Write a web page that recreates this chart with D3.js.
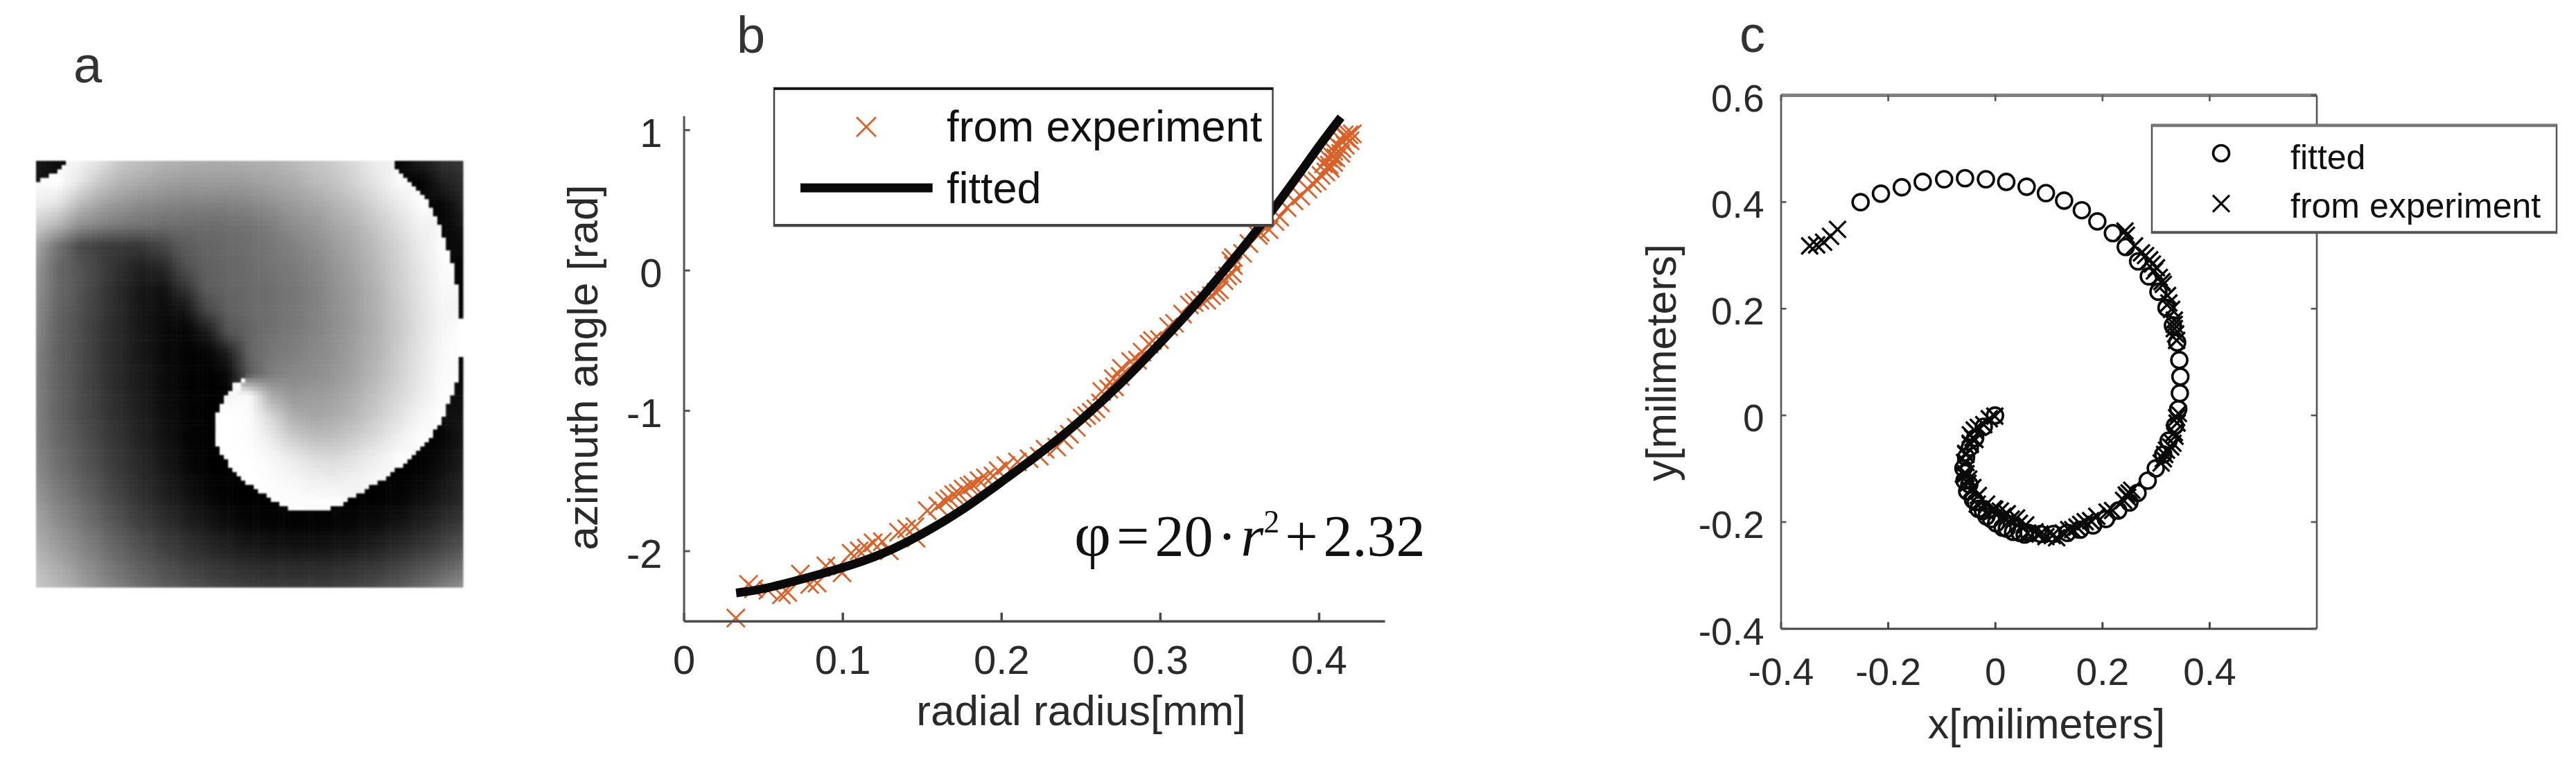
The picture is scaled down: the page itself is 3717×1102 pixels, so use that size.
<!DOCTYPE html>
<html>
<head>
<meta charset="utf-8">
<script src="https://cdnjs.cloudflare.com/ajax/libs/d3/7.8.5/d3.min.js"></script>
<style>
  html, body { margin: 0; background: #fff; }
  text { font-family: "Liberation Sans", Arial, sans-serif; fill: #2a2a2a; }
  .eq text, text.eq { font-family: "Liberation Serif", "Times New Roman", serif; fill: #111; }
</style>
</head>
<body>
<div class="canvas"></div>
<script>
// panel a: grey levels on a 21x21 grid (every 5 image cells)
const phaseGrid = [
  [20,10,245,225,200,190,180,175,172,172,175,178,185,195,205,220,240,5,25,45,55],
  [250,255,230,200,180,170,160,155,155,155,158,165,172,185,195,212,230,250,2,30,45],
  [238,228,190,165,150,140,135,130,130,130,135,145,155,165,180,195,215,235,252,5,35],
  [205,182,145,130,120,115,110,108,108,110,115,125,140,150,165,180,200,222,242,3,20],
  [165,115,75,60,55,55,70,92,100,105,110,118,128,140,155,170,190,212,235,252,10],
  [150,105,85,65,45,32,40,80,96,102,108,115,122,132,148,165,185,208,230,250,5],
  [145,105,85,60,38,22,18,50,92,100,105,110,118,128,145,160,180,205,228,248,2],
  [140,100,80,58,38,20,12,20,70,95,105,110,118,128,142,158,178,202,225,245,3],
  [135,98,78,55,38,22,10,5,25,85,100,112,120,130,143,158,178,200,225,245,255],
  [130,98,78,55,38,22,10,3,3,30,100,118,125,135,145,162,180,205,228,248,255],
  [128,98,78,55,38,25,12,3,0,8,90,125,135,140,150,165,185,208,230,250,5],
  [128,100,78,58,40,25,12,3,0,245,250,170,150,155,160,175,195,215,235,252,12],
  [128,100,78,60,42,30,15,5,0,255,252,215,175,165,172,185,205,225,245,255,18],
  [130,105,85,65,48,32,18,5,0,255,252,235,205,190,192,205,220,240,252,3,22],
  [135,110,90,70,52,38,22,8,0,255,255,248,235,222,218,228,240,252,1,10,28],
  [142,118,98,78,58,42,28,14,3,0,255,252,248,240,238,242,248,0,5,18,35],
  [155,130,110,88,68,50,35,22,10,2,0,0,253,252,252,0,2,6,15,28,42],
  [165,142,122,100,80,62,48,34,22,12,6,3,2,2,4,8,12,20,30,45,60],
  [175,155,135,115,95,78,62,50,38,30,22,18,16,16,18,22,30,40,50,65,82],
  [190,170,150,128,108,92,78,65,55,48,42,40,40,40,42,48,55,65,78,92,110],
  [200,185,165,142,125,108,95,85,75,68,62,60,60,60,62,68,78,90,105,125,145]
];
// sharp white/black edges of panel a, in image cells (0-100)
const wrapUpperRight = [[82.5,-1],[83.2,0],[85.5,2.9],[89.3,6.4],[92.5,10.8],[95,16.6],[97.3,23.6],[99.2,31.9],[99.5,36.7],[101,36.7]];
const wrapSpiral = [[101,45.6],[99.2,45.6],[98.9,51],[96.9,56.1],[94.4,62.2],[90.6,67],[86.1,71.4],[81,74.9],[75.3,78.4],[70.8,81],[67,82.3],[60,82.3],[55.5,79.7],[51,76.9],[46.6,73.3],[44,69.5],[42.2,66.3],[41.6,62.5],[42.4,59],[44,56.1],[46.6,52.3],[49.4,51]];
const wrapCorner = [[8.3,-1],[7.7,0],[5.4,2.2],[2.9,3.8],[0,4.9],[-1,4.9]];

// panel b
const bXTicks = [0, 0.1, 0.2, 0.3, 0.4];
const bYTicks = [1, 0, -1, -2];
const fittedR = [0.033,0.05,0.075,0.1,0.125,0.15,0.175,0.2,0.225,0.25,0.275,0.3,0.325,0.35,0.375,0.4,0.414];
const fittedPhi = [-2.3,-2.27,-2.2,-2.12,-2.02,-1.88,-1.71,-1.51,-1.3,-1.07,-0.81,-0.52,-0.21,0.13,0.49,0.88,1.09];
const expR = [0.0328,0.0408,0.044,0.053,0.0615,0.0655,0.0735,0.0793,0.084,0.0895,0.0967,0.0997,0.1054,0.1105,0.115,0.1193,0.1251,0.1295,0.1353,0.1404,0.1456,0.1463,0.1534,0.16,0.1643,0.1672,0.17,0.173,0.176,0.1797,0.182,0.186,0.19,0.1949,0.198,0.2029,0.2102,0.2175,0.224,0.2276,0.2349,0.2393,0.2429,0.2473,0.2509,0.2538,0.2567,0.2596,0.2625,0.2633,0.2677,0.2713,0.2706,0.2749,0.2757,0.2815,0.2858,0.2887,0.2931,0.2953,0.2996,0.3054,0.3091,0.3142,0.3185,0.3215,0.3251,0.3294,0.3324,0.3352,0.3374,0.3403,0.3426,0.3455,0.3462,0.3447,0.3462,0.352,0.356,0.362,0.3631,0.3687,0.3724,0.3754,0.38,0.3844,0.3887,0.3931,0.396,0.399,0.4014,0.4044,0.4066,0.4094,0.4108,0.4138,0.4145,0.4167,0.4174,0.4197,0.4211,0.419,0.416,0.4145,0.4094,0.411,0.4058,0.403,0.4087,0.4072];
const expPhi = [-2.479,-2.239,-2.27,-2.281,-2.314,-2.297,-2.165,-2.24,-2.23,-2.108,-2.12,-2.157,-2.017,-2.0,-1.98,-1.943,-1.935,-2.0,-1.868,-1.843,-1.828,-1.91,-1.714,-1.68,-1.645,-1.63,-1.6,-1.59,-1.56,-1.54,-1.53,-1.5,-1.48,-1.466,-1.43,-1.392,-1.367,-1.343,-1.326,-1.276,-1.26,-1.21,-1.169,-1.12,-1.054,-1.037,-1.013,-0.988,-0.947,-0.865,-0.848,-0.832,-0.774,-0.758,-0.7,-0.651,-0.642,-0.584,-0.527,-0.502,-0.494,-0.403,-0.379,-0.313,-0.247,-0.23,-0.214,-0.214,-0.182,-0.157,-0.14,-0.074,-0.041,-0.025,0.033,0.066,0.09,0.12,0.19,0.247,0.27,0.288,0.346,0.379,0.445,0.494,0.527,0.577,0.618,0.635,0.675,0.7,0.749,0.766,0.8,0.832,0.865,0.89,0.939,0.922,0.972,0.964,0.964,0.922,0.848,0.897,0.8,0.758,0.807,0.725];

// panel c
const cXTicks = [-0.4, -0.2, 0, 0.2, 0.4];
const cYTicks = [0.6, 0.4, 0.2, 0, -0.2, -0.4];
const circleX = [-0.251,-0.213,-0.174,-0.135,-0.095,-0.056,-0.017,0.021,0.059,0.095,0.129,0.162,0.191,0.22,0.244,0.267,0.287,0.305,0.32,0.332,0.34,0.344,0.346,0.345,0.342,0.336,0.324,0.314,0.3,0.285,0.266,0.251,0.23,0.207,0.183,0.159,0.135,0.109,0.085,0.063,0.046,0.022,0.002,-0.016,-0.031,-0.041,-0.052,-0.057,-0.059,-0.054,-0.047,-0.037,-0.021,0,-0.048,-0.036,-0.0225,-0.0073,0.0142,0.0336,0.0552];
const circleY = [0.399,0.415,0.427,0.437,0.442,0.444,0.442,0.437,0.428,0.416,0.402,0.384,0.363,0.341,0.315,0.288,0.26,0.231,0.201,0.168,0.136,0.103,0.072,0.041,0.011,-0.02,-0.048,-0.074,-0.1,-0.123,-0.146,-0.164,-0.179,-0.195,-0.207,-0.215,-0.221,-0.223,-0.223,-0.221,-0.221,-0.213,-0.203,-0.19,-0.176,-0.159,-0.143,-0.123,-0.1,-0.079,-0.061,-0.043,-0.022,-0.001,-0.13,-0.163,-0.18,-0.195,-0.211,-0.219,-0.224];
const crossX = [-0.346,-0.333,-0.32,-0.307,-0.294,0.2426,0.2451,0.2604,0.2733,0.281,0.2886,0.2937,0.3014,0.3065,0.3141,0.3219,0.3295,0.3347,0.3347,0.3372,0.3423,0.3398,0.3347,0.3321,0.3167,0.3141,0.2502,0.2553,0.2476,0.2195,0.2093,0.1785,0.1684,0.153,0.1376,0.1274,0.1069,0.084,0.0609,0.0455,0.0303,0.0149,-0.0004,-0.0158,-0.0312,-0.0414,-0.0491,-0.0542,-0.0542,-0.0542,-0.0465,-0.0414,-0.0388,-0.0312,-0.021,-0.0107,-0.0004,-0.003,0.0099,0.0228,0.0401,0.0574,0.0746,-0.0461,-0.0375,-0.0461,-0.0547,-0.0569,-0.059,-0.0505,-0.0461,-0.0332,0.3245,0.3115,0.2975,0.3345,0.339,0.339,0.336,0.328,0.32,0.31,0.245,0.24,0.19,0.16,0.145,0.115,0.095];
const crossY = [0.317,0.319,0.324,0.335,0.348,0.345,0.337,0.317,0.304,0.299,0.291,0.283,0.276,0.258,0.245,0.224,0.198,0.178,0.162,0.152,0.003,-0.015,-0.033,-0.053,-0.074,-0.082,-0.146,-0.141,-0.154,-0.179,-0.182,-0.198,-0.2,-0.21,-0.215,-0.221,-0.226,-0.223,-0.221,-0.203,-0.195,-0.19,-0.177,-0.167,-0.151,-0.136,-0.12,-0.11,-0.089,-0.074,-0.053,-0.043,-0.028,-0.023,-0.018,-0.007,-0.002,-0.176,-0.18,-0.185,-0.193,-0.206,-0.219,-0.037,-0.046,-0.055,-0.072,-0.089,-0.111,-0.128,-0.141,-0.167,0.21,0.25,0.27,0.17,0.14,-0.005,-0.04,-0.06,-0.066,-0.09,-0.15,-0.16,-0.19,-0.205,-0.215,-0.23,-0.228];

const svg = d3
  .select(".canvas")
  .append("svg")
  .attr("width", 3717)
  .attr("height", 1102)
  .style("display", "block")
  .style("filter", "blur(0.7px)");

const crossPath = (s) => `M${-s},${-s}L${s},${s}M${-s},${s}L${s},${-s}`;

// panel labels
[["a", 106, 119], ["b", 1063, 76], ["c", 2510, 75]].forEach(([t, px, py]) => {
  svg.append("text").attr("x", px).attr("y", py).attr("font-size", 74).style("fill", "#333").text(t);
});

// ---- panel a
const cells = d3.range(100);
const cellX = d3.scaleBand().domain(cells).range([52, 668]);
const cellY = d3.scaleBand().domain(cells).range([232, 847]);
const grey = d3.scaleLinear().domain([0, 255]).range(["#000", "#fff"]);
const wrapEdges = [wrapUpperRight, wrapSpiral, wrapCorner];

const crosses = (a, b, c, d) => {
  const s = (p, q, r) => (q[0] - p[0]) * (r[1] - p[1]) - (q[1] - p[1]) * (r[0] - p[0]);
  return s(a, b, c) * s(a, b, d) < 0 && s(c, d, a) * s(c, d, b) < 0;
};
const blocked = (p, q) =>
  wrapEdges.some((line) => d3.pairs(line).some(([c, d]) => crosses(p, q, c, d)));

// bilinear read of the grid, ignoring grid nodes on the far side of a sharp edge
const readCell = (i, j) => {
  const p = [i + 0.5, j + 0.5];
  const gx = Math.min(Math.floor(p[0] / 5), 19);
  const gy = Math.min(Math.floor(p[1] / 5), 19);
  const fx = p[0] / 5 - gx;
  const fy = p[1] / 5 - gy;
  let sum = 0;
  let weight = 0;
  let plain = 0;
  [[0, 0], [1, 0], [0, 1], [1, 1]].forEach(([a, b]) => {
    const w = (a ? fx : 1 - fx) * (b ? fy : 1 - fy);
    const v = phaseGrid[gy + b][gx + a];
    plain += w * v;
    if (!blocked(p, [(gx + a) * 5, (gy + b) * 5])) {
      sum += w * v;
      weight += w;
    }
  });
  return weight > 0 ? sum / weight : plain;
};

const cellData = cells.flatMap((j) => cells.map((i) => ({ i, j, v: readCell(i, j) })));

svg
  .append("g")
  .style("filter", "blur(1.2px)")
  .selectAll("rect")
  .data(cellData)
  .enter()
  .append("rect")
  .attr("x", (d) => cellX(d.i))
  .attr("y", (d) => cellY(d.j))
  .attr("width", cellX.bandwidth() + 0.5)
  .attr("height", cellY.bandwidth() + 0.5)
  .attr("fill", (d) => grey(d.v));

// ---- panel b
const bx = d3.scaleLinear().domain([0, 0.4415]).range([986.6, 1998]);
const by = d3.scaleLinear().domain([-2.5, 1.1]).range([895.7, 167]);
const graphB = svg.append("g");

graphB
  .append("g")
  .attr("class", "exp")
  .selectAll("path")
  .data(expR)
  .enter()
  .append("path")
  .attr("d", crossPath(13))
  .attr("transform", (d, i) => `translate(${bx(d)},${by(expPhi[i])})`)
  .attr("fill", "none")
  .attr("stroke", "#d9622b")
  .attr("stroke-width", 2.8);

const fitLine = d3
  .line()
  .x((d) => bx(d))
  .y((d, i) => by(fittedPhi[i]))
  .curve(d3.curveNatural);

graphB
  .append("path")
  .datum(fittedR)
  .attr("d", fitLine)
  .attr("fill", "none")
  .attr("stroke", "#0a0a0a")
  .attr("stroke-width", 12.5);

const styleAxis = (g, size, color, width) => {
  g.selectAll("text").attr("font-size", size).style("font-family", "Liberation Sans").style("fill", "#2a2a2a");
  g.selectAll("path,line").attr("stroke", color).attr("stroke-width", width);
};

const bXAxis = graphB
  .append("g")
  .attr("transform", "translate(0,895.7)")
  .call(d3.axisBottom(bx).tickValues(bXTicks).tickFormat(String).tickSizeInner(-12).tickSizeOuter(0).tickPadding(35));
styleAxis(bXAxis, 58, "#4a4a4a", 3.5);

const bYAxis = graphB
  .append("g")
  .attr("transform", "translate(986.6,0)")
  .call(d3.axisLeft(by).tickValues(bYTicks).tickFormat(String).tickSizeInner(-9).tickSizeOuter(0).tickPadding(31));
styleAxis(bYAxis, 58, "#555", 3);
bYAxis.selectAll("text").attr("dy", "0.41em");

graphB.append("text").attr("x", 1560).attr("y", 1046).attr("text-anchor", "middle").attr("font-size", 62).text("radial radius[mm]");
graphB
  .append("text")
  .attr("transform", "translate(862,530) rotate(-90)")
  .attr("text-anchor", "middle")
  .attr("font-size", 62)
  .text("azimuth angle [rad]");

// equation
const eq = graphB.append("text").attr("class", "eq").attr("x", 1550).attr("y", 802).attr("font-size", 84);
eq.append("tspan").attr("font-size", 92).text("φ");
eq.append("tspan").attr("dx", 8).text("=");
eq.append("tspan").attr("dx", 8).text("20");
eq.append("tspan").attr("dx", 6).text("·");
eq.append("tspan").attr("dx", 6).attr("font-style", "italic").text("r");
eq.append("tspan").attr("font-size", 46).attr("dy", -34).text("2");
eq.append("tspan").attr("dy", 34).attr("dx", 8).text("+");
eq.append("tspan").attr("dx", 8).text("2.32");

// legend b
const legB = graphB.append("g");
legB.append("rect").attr("x", 1117).attr("y", 127).attr("width", 719.5).attr("height", 199).attr("fill", "#fff").attr("stroke", "#444").attr("stroke-width", 2.5);
legB.append("line").attr("x1", 1117).attr("x2", 1836.5).attr("y1", 128).attr("y2", 128).attr("stroke", "#111").attr("stroke-width", 3.5);
legB.append("line").attr("x1", 1117).attr("x2", 1836.5).attr("y1", 325).attr("y2", 325).attr("stroke", "#444").attr("stroke-width", 4);
legB.append("path").attr("d", crossPath(14)).attr("transform", "translate(1250,183)").attr("fill", "none").attr("stroke", "#d9622b").attr("stroke-width", 2.8);
legB.append("line").attr("x1", 1155).attr("x2", 1345.6).attr("y1", 271).attr("y2", 271).attr("stroke", "#0a0a0a").attr("stroke-width", 13);
legB.append("text").attr("x", 1366).attr("y", 204).attr("font-size", 63).style("fill", "#111").text("from experiment");
legB.append("text").attr("x", 1366).attr("y", 293).attr("font-size", 63).style("fill", "#111").text("fitted");

// ---- panel c
const cx = d3.scaleLinear().domain([-0.4, 0.6]).range([2569.5, 3342.5]);
const cy = d3.scaleLinear().domain([-0.4, 0.6]).range([906.4, 137]);
const graphC = svg.append("g");

const cBottom = graphC
  .append("g")
  .attr("transform", "translate(0,906.4)")
  .call(d3.axisBottom(cx).tickValues(cXTicks).tickFormat(String).tickSizeInner(-9).tickSizeOuter(0).tickPadding(43));
styleAxis(cBottom, 55, "#444", 3);

const cLeft = graphC
  .append("g")
  .attr("transform", "translate(2569.5,0)")
  .call(d3.axisLeft(cy).tickValues(cYTicks).tickFormat(String).tickSizeInner(-8).tickSizeOuter(0).tickPadding(24));
styleAxis(cLeft, 55, "#555", 2.6);
cLeft.selectAll("text").attr("dy", "0.42em");

const cTop = graphC
  .append("g")
  .attr("transform", "translate(0,137)")
  .call(d3.axisTop(cx).tickValues(cXTicks).tickFormat("").tickSizeInner(-9).tickSizeOuter(0));
styleAxis(cTop, 55, "#555", 2.6);
cTop.select("path").attr("stroke", "#808080").attr("stroke-width", 5);

const cRight = graphC
  .append("g")
  .attr("transform", "translate(3342.5,0)")
  .call(d3.axisRight(cy).tickValues(cYTicks).tickFormat("").tickSizeInner(-8).tickSizeOuter(0));
styleAxis(cRight, 55, "#555", 2.6);

graphC
  .append("g")
  .selectAll("circle")
  .data(circleX)
  .enter()
  .append("circle")
  .attr("cx", (d) => cx(d))
  .attr("cy", (d, i) => cy(circleY[i]))
  .attr("r", 11.5)
  .attr("fill", "none")
  .attr("stroke", "#0a0a0a")
  .attr("stroke-width", 3.6);

graphC
  .append("g")
  .selectAll("path")
  .data(crossX)
  .enter()
  .append("path")
  .attr("d", crossPath(12))
  .attr("transform", (d, i) => `translate(${cx(d)},${cy(crossY[i])})`)
  .attr("fill", "none")
  .attr("stroke", "#0a0a0a")
  .attr("stroke-width", 3.4);

graphC.append("text").attr("x", 2953).attr("y", 1065).attr("text-anchor", "middle").attr("font-size", 61).text("x[milimeters]");
graphC
  .append("text")
  .attr("transform", "translate(2418,523) rotate(-90)")
  .attr("text-anchor", "middle")
  .attr("font-size", 61)
  .text("y[milimeters]");

// legend c
const legC = graphC.append("g");
legC.append("rect").attr("x", 3105).attr("y", 180).attr("width", 584).attr("height", 156).attr("fill", "#fff").attr("stroke", "#555").attr("stroke-width", 2.5);
legC.append("line").attr("x1", 3105).attr("x2", 3689).attr("y1", 181).attr("y2", 181).attr("stroke", "#777").attr("stroke-width", 4.5);
legC.append("line").attr("x1", 3105).attr("x2", 3689).attr("y1", 335).attr("y2", 335).attr("stroke", "#555").attr("stroke-width", 3.5);
legC.append("circle").attr("cx", 3205).attr("cy", 221).attr("r", 11.5).attr("fill", "none").attr("stroke", "#0a0a0a").attr("stroke-width", 3.6);
legC.append("path").attr("d", crossPath(12)).attr("transform", "translate(3205,293.6)").attr("fill", "none").attr("stroke", "#0a0a0a").attr("stroke-width", 3.2);
legC.append("text").attr("x", 3305).attr("y", 243.5).attr("font-size", 50).style("fill", "#111").text("fitted");
legC.append("text").attr("x", 3305).attr("y", 314).attr("font-size", 50).style("fill", "#111").text("from experiment");
</script>
</body>
</html>
